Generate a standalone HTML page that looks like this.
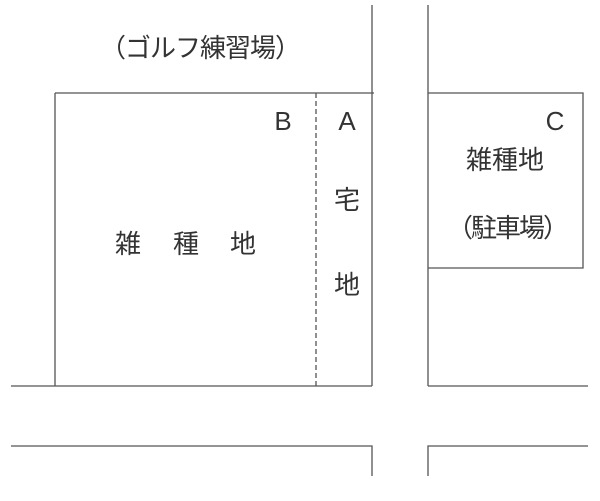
<!DOCTYPE html>
<html><head><meta charset="utf-8"><style>
body{margin:0;background:#fff}
svg text{font-family:"Liberation Sans","Noto Sans CJK JP",sans-serif;fill:#333;font-size:26px}
</style></head><body>
<svg width="600" height="496" viewBox="0 0 600 496" xmlns="http://www.w3.org/2000/svg">
<g stroke="#555" stroke-width="1.3" fill="none">
<line x1="372" y1="5" x2="372" y2="386"/>
<line x1="428" y1="5" x2="428" y2="386"/>
<line x1="55" y1="93" x2="374" y2="93"/>
<line x1="55" y1="93" x2="55" y2="386"/>
<line x1="11" y1="386" x2="372" y2="386"/>
<line x1="316" y1="93" x2="316" y2="386" stroke-dasharray="5,3"/>
<polyline points="428,93 583,93 583,268 428,268"/>
<line x1="428" y1="386" x2="588" y2="386"/>
<polyline points="11,446 372,446 372,476"/>
<polyline points="588,446 428,446 428,476"/>
</g>
<text x="200" y="57" text-anchor="middle" font-size="27" letter-spacing="-1">（ゴルフ練習場）</text>
<text x="283" y="130" text-anchor="middle" font-size="24">B</text>
<text x="347" y="130" text-anchor="middle" font-size="24">A</text>
<text x="347" y="209" text-anchor="middle">宅</text>
<text x="347" y="294" text-anchor="middle">地</text>
<text x="128" y="253" text-anchor="middle">雑</text>
<text x="186" y="253" text-anchor="middle">種</text>
<text x="243" y="253" text-anchor="middle">地</text>
<text x="555" y="130" text-anchor="middle" font-size="24">C</text>
<text x="505" y="169" text-anchor="middle">雑種地</text>
<text x="507" y="237" text-anchor="middle" letter-spacing="-2">（駐車場）</text>
</svg>
</body></html>
